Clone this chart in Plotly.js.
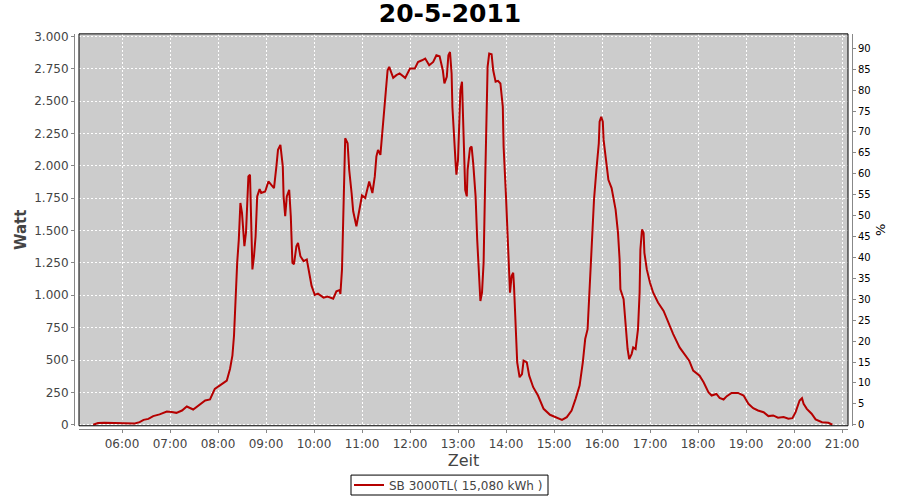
<!DOCTYPE html>
<html>
<head>
<meta charset="utf-8">
<script src="https://cdn.plot.ly/plotly-3.0.1.min.js"></script>
<style>
  html, body { margin: 0; padding: 0; background: #ffffff; }
  #chart { width: 900px; height: 500px; }
</style>
</head>
<body>
<div id="chart"></div>
<script>
// ---- data ----
const day = '2011-05-20';
const chartTitle = '20-5-2011';
const seriesName = 'SB 3000TL( 15,080 kWh )';
const xTitle = 'Zeit';
const yTitle = 'Watt';
const y2Title = '%';

const times = [
  '05:24','05:30','05:38','05:45','05:50','05:55','06:03','06:10','06:16','06:22',
  '06:27','06:33','06:39','06:47','06:56','07:02','07:08','07:15','07:21','07:29',
  '07:36','07:44','07:50','07:56','08:02','08:07','08:11','08:15','08:18','08:20',
  '08:21','08:22','08:24','08:26','08:28','08:30','08:31','08:33','08:35','08:38',
  '08:40','08:41','08:43','08:45','08:47','08:49','08:52','08:54','08:59','09:03',
  '09:07','09:10','09:13','09:15','09:18','09:21','09:22','09:24','09:26','09:29',
  '09:31','09:33','09:35','09:38','09:40','09:43','09:47','09:51','09:54','09:57',
  '10:01','10:05','10:12','10:17','10:24','10:28','10:32','10:33','10:35','10:36',
  '10:37','10:39','10:42','10:44','10:47','10:49','10:53','10:57','11:00','11:04',
  '11:09','11:13','11:16','11:18','11:20','11:23','11:26','11:29','11:32','11:34',
  '11:39','11:43','11:47','11:54','12:00','12:06','12:10','12:15','12:19','12:24',
  '12:29','12:33','12:37','12:41','12:43','12:46','12:48','12:50','12:52','12:53',
  '12:55','12:57','12:58','13:00','13:02','13:03','13:05','13:06','13:07','13:09',
  '13:11','13:12','13:15','13:17','13:19','13:22','13:24','13:26','13:28','13:30',
  '13:32','13:34','13:36','13:37','13:39','13:42','13:44','13:47','13:50','13:53',
  '13:56','13:57','14:00','14:02','14:04','14:05','14:07','14:09','14:10','14:12',
  '14:14','14:17','14:20','14:22','14:26','14:29','14:34','14:40','14:47','14:55',
  '15:03','15:10','15:16','15:22','15:27','15:32','15:36','15:39','15:42','15:44',
  '15:46','15:48','15:50','15:53','15:56','15:57','15:59','16:01','16:02','16:05',
  '16:08','16:12','16:15','16:17','16:20','16:22','16:23','16:27','16:29','16:32',
  '16:34','16:37','16:39','16:42','16:45','16:47','16:48','16:50','16:52','16:53',
  '16:56','17:00','17:04','17:10','17:17','17:23','17:29','17:37','17:44','17:49',
  '17:54','18:02','18:07','18:13','18:17','18:23','18:27','18:32','18:36','18:42',
  '18:50','18:57','19:03','19:09','19:15','19:22','19:28','19:34','19:40','19:47',
  '19:53','19:58','20:02','20:07','20:10','20:12','20:16','20:22','20:27','20:35',
  '20:43','20:48'
];

const watts = [
  0,13,15,15,12,12,14,15,10,20,
  38,45,67,80,102,98,92,110,141,118,
  150,187,195,277,302,320,341,431,533,687,
  850,995,1253,1430,1713,1636,1533,1379,1485,1918,
  1931,1636,1200,1302,1456,1764,1820,1790,1802,1879,
  1854,1828,1995,2123,2162,1995,1764,1610,1764,1815,
  1610,1251,1240,1379,1405,1302,1264,1277,1174,1072,
  1002,1013,982,990,974,1030,1040,1010,1200,1508,
  1841,2213,2174,1969,1790,1649,1533,1687,1771,1751,
  1879,1790,1918,2072,2123,2085,2303,2585,2738,2764,
  2679,2700,2713,2679,2751,2751,2802,2815,2828,2777,
  2802,2854,2846,2738,2636,2687,2854,2879,2713,2456,
  2174,2021,1931,2046,2405,2585,2649,2431,2072,1815,
  1764,1969,2136,2149,2021,1764,1430,1200,956,1020,
  1251,1892,2405,2764,2867,2862,2738,2649,2656,2636,
  2456,2149,1764,1456,1072,1020,1149,1174,1072,687,
  482,367,392,495,482,379,290,226,123,77,
  59,38,59,110,200,302,482,662,738,969,
  1226,1533,1738,1969,2174,2341,2379,2341,2200,2046,
  1892,1828,1738,1662,1482,1277,1046,969,815,585,
  508,546,597,585,738,1020,1354,1508,1482,1328,
  1200,1097,1020,944,879,790,700,597,533,495,
  418,379,328,251,226,238,208,195,221,246,
  246,226,162,128,110,97,67,72,54,59,
  46,51,97,187,205,162,123,85,41,20,
  15,0
];

const xRange = ['05:06:15', '21:07:30'];
const yRange = [-8, 3019];
const y2Range = [-0.24, 93.45];

// ---- chart ----
const xs = times.map(t => day + ' ' + t);
const font = 'DejaVu Sans, sans-serif';
const tickGrey = '#444444';
const axisGrey = '#888888';
const FW = 900, FH = 500;
const px = v => v / FW;          // pixel x -> paper fraction
const py = v => (FH - v) / FH;   // pixel y -> paper fraction

const trace = {
  x: xs,
  y: watts,
  type: 'scatter',
  mode: 'lines',
  name: seriesName,
  line: { color: '#b50000', width: 2, shape: 'linear' },
  hoverinfo: 'skip'
};
const ghost = {
  x: [], y: [], type: 'scatter', mode: 'lines', yaxis: 'y2',
  showlegend: false, hoverinfo: 'skip'
};

const layout = {
  width: FW, height: FH,
  margin: { l: 0, r: 0, t: 0, b: 0, pad: 0 },
  paper_bgcolor: '#ffffff',
  plot_bgcolor: '#cccccc',
  separators: ',.',
  font: { family: font, size: 12, color: tickGrey },
  title: {
    text: '<b>' + chartTitle + '</b>',
    font: { family: font, size: 25, color: '#000000' },
    x: 0.5, xanchor: 'center', xref: 'container',
    y: 1 - 13 / FH, yanchor: 'middle', yref: 'container'
  },
  showlegend: true,
  legend: {
    orientation: 'h',
    x: px(349), xanchor: 'left',
    y: py(487), yanchor: 'middle',
    bgcolor: 'rgba(0,0,0,0)', borderwidth: 0,
    font: { family: font, size: 12, color: tickGrey },
    itemwidth: 30, tracegroupgap: 0
  },
  xaxis: {
    type: 'date',
    domain: [px(79), px(848)],
    range: xRange.map(t => day + ' ' + t),
    anchor: 'free', position: py(431),
    tickformat: '%H:%M',
    dtick: 3600000,
    tick0: day + ' 00:00',
    ticks: 'outside', ticklen: 3, tickcolor: axisGrey, tickwidth: 1,
    showline: true, linecolor: axisGrey, linewidth: 1,
    showgrid: true, gridcolor: '#ffffff', gridwidth: 1, griddash: '2px,2px',
    zeroline: false, automargin: false,
    tickfont: { family: font, size: 12, color: tickGrey },
    title: { text: xTitle, font: { family: font, size: 16, color: tickGrey }, standoff: 4 }
  },
  yaxis: {
    domain: [py(427.5), py(34)],
    range: yRange,
    anchor: 'free', position: px(74),
    dtick: 250, tick0: 0,
    tickformat: ',d',
    ticks: 'outside', ticklen: 3, tickcolor: axisGrey, tickwidth: 1,
    showline: true, linecolor: axisGrey, linewidth: 1,
    showgrid: true, gridcolor: '#ffffff', gridwidth: 1, griddash: '2px,2px',
    zeroline: false, automargin: false,
    tickfont: { family: font, size: 12, color: tickGrey },
    title: { text: '<b>' + yTitle + '</b>', font: { family: font, size: 15, color: tickGrey }, standoff: 2 }
  },
  yaxis2: {
    overlaying: 'y', side: 'right',
    domain: [py(427.5), py(34)],
    range: y2Range,
    anchor: 'free', position: px(852),
    dtick: 5, tick0: 0,
    ticks: 'outside', ticklen: 3, tickcolor: axisGrey, tickwidth: 1,
    showline: true, linecolor: axisGrey, linewidth: 1,
    showgrid: false, zeroline: false, automargin: false,
    tickfont: { family: font, size: 10, color: '#000000' },
    title: { text: y2Title, font: { family: font, size: 13, color: '#000000' }, standoff: 6 }
  },
  shapes: [
    {
      type: 'rect', xref: 'x domain', yref: 'y domain',
      x0: 0, x1: 1, y0: 0, y1: 1,
      line: { color: '#000000', width: 1 }, fillcolor: 'rgba(0,0,0,0)', layer: 'above'
    },
    {
      type: 'rect', xref: 'paper', yref: 'paper',
      x0: px(351), x1: px(548), y0: py(477), y1: py(497),
      line: { color: '#000000', width: 1 }, fillcolor: 'rgba(0,0,0,0)', layer: 'above'
    }
  ]
};

Plotly.newPlot('chart', [trace, ghost], layout, { staticPlot: true, displayModeBar: false });
</script>
</body>
</html>
